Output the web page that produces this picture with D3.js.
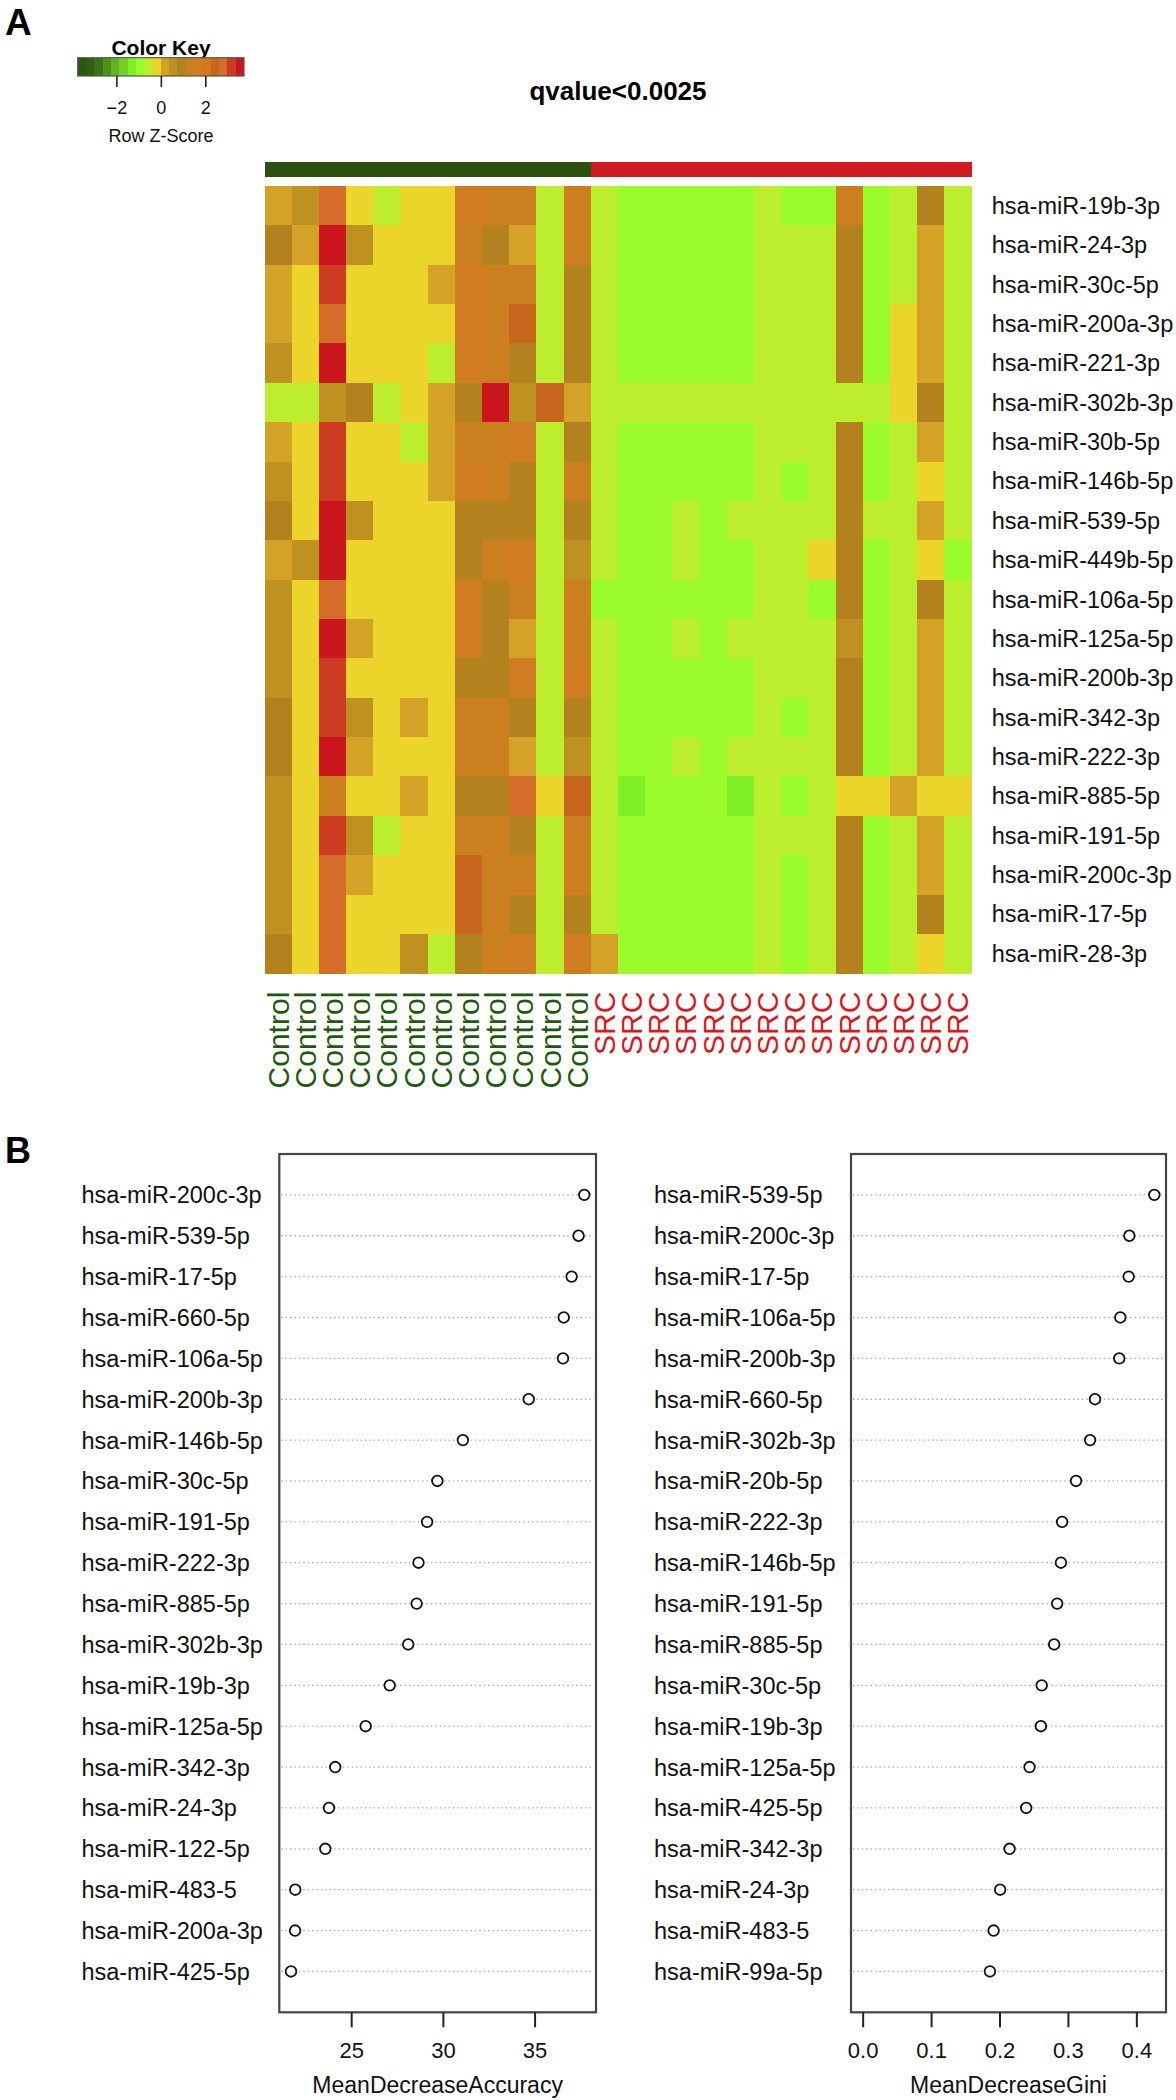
<!DOCTYPE html>
<html><head><meta charset="utf-8">
<script src="https://cdn.jsdelivr.net/npm/d3@7"></script>
<style>body{margin:0;background:#fff}svg{display:block;font-family:"Liberation Sans",Arial,Helvetica,sans-serif}</style>
</head><body><svg id="chart" width="1176" height="2100"></svg>
<script>
// ---------- DATA ----------
const rowLabels = ["hsa-miR-19b-3p","hsa-miR-24-3p","hsa-miR-30c-5p","hsa-miR-200a-3p","hsa-miR-221-3p","hsa-miR-302b-3p","hsa-miR-30b-5p","hsa-miR-146b-5p","hsa-miR-539-5p","hsa-miR-449b-5p","hsa-miR-106a-5p","hsa-miR-125a-5p","hsa-miR-200b-3p","hsa-miR-342-3p","hsa-miR-222-3p","hsa-miR-885-5p","hsa-miR-191-5p","hsa-miR-200c-3p","hsa-miR-17-5p","hsa-miR-28-3p"];
const colGroups = ["Control","Control","Control","Control","Control","Control","Control","Control","Control","Control","Control","Control","SRC","SRC","SRC","SRC","SRC","SRC","SRC","SRC","SRC","SRC","SRC","SRC","SRC","SRC"];
const groupNames = ["Control","SRC"];
// row z-scores, 20 rows x 26 samples
const zScores = [
 [0.18,0.55,2.8,-0.18,-0.55,-0.18,-0.18,1.68,1.3,1.3,-0.55,1.3, -0.55,-0.95,-0.95,-0.95,-0.95,-0.95,-0.55,-0.95,-0.95,1.3,-0.95,-0.55,0.93,-0.55],
 [0.93,0.18,3.55,0.55,-0.18,-0.18,-0.18,1.3,0.93,0.18,-0.55,1.3, -0.55,-0.95,-0.95,-0.95,-0.95,-0.95,-0.55,-0.55,-0.55,0.93,-0.95,-0.55,0.18,-0.55],
 [0.18,-0.18,3.18,-0.18,-0.18,-0.18,0.18,1.68,1.3,1.3,-0.55,0.93, -0.55,-0.95,-0.95,-0.95,-0.95,-0.95,-0.55,-0.55,-0.55,0.93,-0.95,-0.55,0.18,-0.55],
 [0.18,-0.18,2.8,-0.18,-0.18,-0.18,-0.18,1.68,1.3,2.4,-0.55,0.93, -0.55,-0.95,-0.95,-0.95,-0.95,-0.95,-0.55,-0.55,-0.55,0.93,-0.95,-0.18,0.18,-0.55],
 [0.55,-0.18,3.55,-0.18,-0.18,-0.18,-0.55,1.68,1.3,0.93,-0.55,0.93, -0.55,-0.95,-0.95,-0.95,-0.95,-0.95,-0.55,-0.55,-0.55,0.93,-0.95,-0.18,0.18,-0.55],
 [-0.55,-0.55,0.55,0.93,-0.55,-0.18,0.18,0.93,3.55,0.55,2.4,0.18, -0.55,-0.55,-0.55,-0.55,-0.55,-0.55,-0.55,-0.55,-0.55,-0.55,-0.55,-0.18,0.93,-0.55],
 [0.18,-0.18,3.18,-0.18,-0.18,-0.55,0.18,1.3,1.3,1.68,-0.55,0.93, -0.55,-0.95,-0.95,-0.95,-0.95,-0.95,-0.55,-0.55,-0.55,0.93,-0.95,-0.55,0.18,-0.55],
 [0.55,-0.18,3.18,-0.18,-0.18,-0.18,0.18,1.68,1.3,0.93,-0.55,1.3, -0.55,-0.95,-0.95,-0.95,-0.95,-0.95,-0.55,-0.95,-0.55,0.93,-0.95,-0.55,-0.18,-0.55],
 [0.93,-0.18,3.55,0.55,-0.18,-0.18,-0.18,0.93,0.93,0.93,-0.55,0.93, -0.55,-0.95,-0.95,-0.55,-0.95,-0.55,-0.55,-0.55,-0.55,0.93,-0.55,-0.55,0.18,-0.55],
 [0.18,0.55,3.55,-0.18,-0.18,-0.18,-0.18,0.93,1.3,1.68,-0.55,0.55, -0.55,-0.95,-0.95,-0.55,-0.95,-0.95,-0.55,-0.55,-0.18,0.93,-0.95,-0.55,-0.18,-0.95],
 [0.55,-0.18,2.8,-0.18,-0.18,-0.18,-0.18,1.68,0.93,1.3,-0.55,1.3, -0.95,-0.95,-0.95,-0.95,-0.95,-0.95,-0.55,-0.55,-0.95,0.93,-0.95,-0.55,0.93,-0.55],
 [0.55,-0.18,3.55,0.18,-0.18,-0.18,-0.18,1.68,0.93,0.18,-0.55,1.3, -0.55,-0.95,-0.95,-0.55,-0.95,-0.55,-0.55,-0.55,-0.55,0.55,-0.95,-0.55,0.18,-0.55],
 [0.55,-0.18,3.18,-0.18,-0.18,-0.18,-0.18,0.93,0.93,1.68,-0.55,1.68, -0.55,-0.95,-0.95,-0.95,-0.95,-0.95,-0.55,-0.55,-0.55,0.93,-0.95,-0.55,0.18,-0.55],
 [0.93,-0.18,3.18,0.55,-0.18,0.18,-0.18,1.3,1.3,0.93,-0.55,0.93, -0.55,-0.95,-0.95,-0.95,-0.95,-0.95,-0.55,-0.95,-0.55,0.93,-0.95,-0.55,0.18,-0.55],
 [0.93,-0.18,3.55,0.18,-0.18,-0.18,-0.18,1.3,1.3,0.18,-0.55,0.55, -0.55,-0.95,-0.95,-0.55,-0.95,-0.55,-0.55,-0.55,-0.55,0.93,-0.95,-0.55,0.18,-0.55],
 [0.55,-0.18,1.3,-0.18,-0.18,0.18,-0.18,0.93,0.93,2.8,-0.18,2.4, -0.55,-1.3,-0.95,-0.95,-0.95,-1.3,-0.55,-0.95,-0.55,-0.18,-0.18,0.18,-0.18,-0.18],
 [0.55,-0.18,3.18,0.55,-0.55,-0.18,-0.18,1.3,1.3,0.93,-0.55,1.3, -0.55,-0.95,-0.95,-0.95,-0.95,-0.95,-0.55,-0.55,-0.55,0.93,-0.95,-0.55,0.18,-0.55],
 [0.55,-0.18,2.8,0.18,-0.18,-0.18,-0.18,2.4,1.3,1.3,-0.55,1.3, -0.55,-0.95,-0.95,-0.95,-0.95,-0.95,-0.55,-0.95,-0.55,0.93,-0.95,-0.55,0.18,-0.55],
 [0.55,-0.18,2.8,-0.18,-0.18,-0.18,-0.18,2.4,1.3,0.93,-0.55,0.93, -0.55,-0.95,-0.95,-0.95,-0.95,-0.95,-0.55,-0.95,-0.55,0.93,-0.95,-0.55,0.93,-0.55],
 [0.93,-0.18,2.8,-0.18,-0.18,0.55,-0.55,0.93,1.3,1.68,-0.55,1.68, 0.18,-0.95,-0.95,-0.95,-0.95,-0.95,-0.55,-0.95,-0.55,0.93,-0.95,-0.55,-0.18,-0.55]
];
const keyTicks = [-2, 0, 2];
const accLabels = ["hsa-miR-200c-3p","hsa-miR-539-5p","hsa-miR-17-5p","hsa-miR-660-5p","hsa-miR-106a-5p","hsa-miR-200b-3p","hsa-miR-146b-5p","hsa-miR-30c-5p","hsa-miR-191-5p","hsa-miR-222-3p","hsa-miR-885-5p","hsa-miR-302b-3p","hsa-miR-19b-3p","hsa-miR-125a-5p","hsa-miR-342-3p","hsa-miR-24-3p","hsa-miR-122-5p","hsa-miR-483-5","hsa-miR-200a-3p","hsa-miR-425-5p"];
const accValues = [37.71,37.40,37.02,36.59,36.55,34.68,31.09,29.70,29.14,28.67,28.57,28.11,27.10,25.79,24.13,23.79,23.59,21.95,21.94,21.72];
const accTicks = [25, 30, 35];
const giniLabels = ["hsa-miR-539-5p","hsa-miR-200c-3p","hsa-miR-17-5p","hsa-miR-106a-5p","hsa-miR-200b-3p","hsa-miR-660-5p","hsa-miR-302b-3p","hsa-miR-20b-5p","hsa-miR-222-3p","hsa-miR-146b-5p","hsa-miR-191-5p","hsa-miR-885-5p","hsa-miR-30c-5p","hsa-miR-19b-3p","hsa-miR-125a-5p","hsa-miR-425-5p","hsa-miR-342-3p","hsa-miR-24-3p","hsa-miR-483-5","hsa-miR-99a-5p"];
const giniValues = [0.4263,0.3898,0.3888,0.3766,0.3750,0.3396,0.3324,0.3119,0.2915,0.2898,0.2843,0.2799,0.2617,0.2605,0.2439,0.2390,0.2147,0.2009,0.1914,0.1860];
const giniTicks = [0, 0.1, 0.2, 0.3, 0.4];

// ---------- STYLE ----------
const palette = ["#2a560e","#2e5e10","#3b7014","#4e9019","#64b21f","#74d024","#80f026","#9afc2a","#bcee2e","#ebd52b",
                 "#d4a227","#bf9121","#b3821f","#cc7f1f","#d07c20","#d47820","#c8661e","#d46c2a","#cc3c22","#cc161e"];
const groupColor = d3.scaleOrdinal().domain(groupNames).range(["#2b5010","#cf1a1f"]);
const groupText = d3.scaleOrdinal().domain(groupNames).range(["#1e5a0e","#d8191e"]);
const svg = d3.select("#chart");
svg.append("rect").attr("width",1176).attr("height",2100).attr("fill","#fff");

const color = d3.scaleQuantize().domain([-3.74, 3.74]).range(palette);

// ---------- PANEL A ----------
svg.append("text").attr("x",5).attr("y",35).attr("font-size",37).attr("font-weight","bold").text("A");

// colour key
const kx = d3.scaleLinear().domain([-3.74, 3.74]).range([77.7, 244]);
const key = svg.append("g");
key.append("text").attr("x",161).attr("y",55).attr("text-anchor","middle").attr("font-size",21).attr("font-weight","bold").text("Color Key");
key.selectAll("rect.k").data(palette).join("rect").attr("class","k")
  .attr("x",d=>kx(color.invertExtent(d)[0])).attr("width",d=>kx(color.invertExtent(d)[1])-kx(color.invertExtent(d)[0])+0.3)
  .attr("y",57.7).attr("height",18.3).attr("fill",d=>d).attr("shape-rendering","crispEdges");
key.append("rect").attr("x",77.7).attr("y",57.7).attr("width",166.3).attr("height",18.3).attr("fill","none").attr("stroke","#555").attr("stroke-width",1.2);
const kAxis = key.append("g").attr("transform","translate(0,76)")
  .call(d3.axisBottom(kx).tickValues(keyTicks).tickSize(11).tickPadding(14).tickFormat(d3.format("d")));
kAxis.select(".domain").remove();
kAxis.selectAll("line").attr("stroke","#222").attr("stroke-width",1.6);
kAxis.selectAll("text").attr("font-size",18).attr("fill","#111").attr("font-family","Liberation Sans, Arial, sans-serif");
key.append("text").attr("x",161).attr("y",142).attr("text-anchor","middle").attr("font-size",18).attr("fill","#111").text("Row Z-Score");

// title
svg.append("text").attr("x",618).attr("y",100).attr("text-anchor","middle").attr("font-size",26).attr("font-weight","bold").text("qvalue<0.0025");

// heatmap
const hx = d3.scaleBand().domain(d3.range(colGroups.length)).range([264.5, 971.5]);
const hy = d3.scaleBand().domain(rowLabels).range([186, 973.3]);
// group side bar
svg.append("g").selectAll("rect").data(colGroups).join("rect")
  .attr("x",(d,i)=>hx(i)).attr("width",hx.bandwidth()+0.5).attr("y",162).attr("height",15)
  .attr("fill",d=>groupColor(d)).attr("shape-rendering","crispEdges");
const cells = [];
zScores.forEach((row,ri)=>row.forEach((v,ci)=>cells.push({r:rowLabels[ri],c:ci,v})));
svg.append("g").selectAll("rect").data(cells).join("rect")
  .attr("x",d=>hx(d.c)).attr("y",d=>hy(d.r)).attr("width",hx.bandwidth()+0.6).attr("height",hy.bandwidth()+0.6)
  .attr("fill",d=>color(d.v)).attr("shape-rendering","crispEdges");
// row labels
svg.append("g").selectAll("text").data(rowLabels).join("text")
  .attr("x",991.7).attr("y",d=>hy(d)+hy.bandwidth()/2).attr("dy","0.35em")
  .attr("font-size",23.5).attr("fill","#111").text(d=>d);
// column labels
svg.append("g").selectAll("text").data(colGroups).join("text")
  .attr("transform",(d,i)=>`translate(${hx(i)+hx.bandwidth()/2+10.5},991.7) rotate(-90)`)
  .attr("text-anchor","end").attr("font-size",30).attr("fill",d=>groupText(d)).text(d=>d);

// ---------- PANEL B ----------
svg.append("text").attr("x",5).attr("y",1163).attr("font-size",36).attr("font-weight","bold").text("B");

function pad(ext){const r=ext[1]-ext[0];return [ext[0]-0.04*r, ext[1]+0.04*r];}

function dotPanel(labels, values, domain, ticks, fmt, left, right, labelX, title){
  const top = 1154, bottom = 2012.3;
  const x = d3.scaleLinear().domain(domain).range([left, right]);
  const y = d3.scalePoint().domain(labels).range([top, bottom]).padding(1);
  const g = svg.append("g");
  g.selectAll("line.grid").data(labels).join("line").attr("class","grid")
    .attr("x1",left+2).attr("x2",right-2).attr("y1",d=>y(d)).attr("y2",d=>y(d))
    .attr("stroke","#a8a8a8").attr("stroke-width",1.3).attr("stroke-dasharray","1.4,3");
  g.selectAll("text.lab").data(labels).join("text").attr("class","lab")
    .attr("x",labelX).attr("y",d=>y(d)).attr("dy","0.36em").attr("font-size",23.5).attr("fill","#111").text(d=>d);
  g.selectAll("circle").data(values).join("circle")
    .attr("cx",d=>x(d)).attr("cy",(d,i)=>y(labels[i])).attr("r",5.3)
    .attr("fill","#fff").attr("stroke","#111").attr("stroke-width",1.8);
  g.append("rect").attr("x",left).attr("y",top).attr("width",right-left).attr("height",bottom-top)
    .attr("fill","none").attr("stroke","#444").attr("stroke-width",2.2);
  const ax = g.append("g").attr("transform",`translate(0,${bottom})`)
    .call(d3.axisBottom(x).tickValues(ticks).tickSize(15).tickPadding(15).tickFormat(fmt));
  ax.select(".domain").remove();
  ax.selectAll("line").attr("stroke","#222").attr("stroke-width",2);
  ax.selectAll("text").attr("font-size",22).attr("fill","#111").attr("font-family","Liberation Sans, Arial, sans-serif");
  g.append("text").attr("x",(left+right)/2).attr("y",2093).attr("text-anchor","middle").attr("font-size",23).attr("fill","#111").text(title);
}

dotPanel(accLabels, accValues, pad(d3.extent(accValues)), accTicks, d3.format("d"), 279.3, 596, 81.4, "MeanDecreaseAccuracy");
dotPanel(giniLabels, giniValues, pad([0, d3.max(giniValues)]), giniTicks, d3.format(".1f"), 851, 1166, 654, "MeanDecreaseGini");
</script></body></html>
